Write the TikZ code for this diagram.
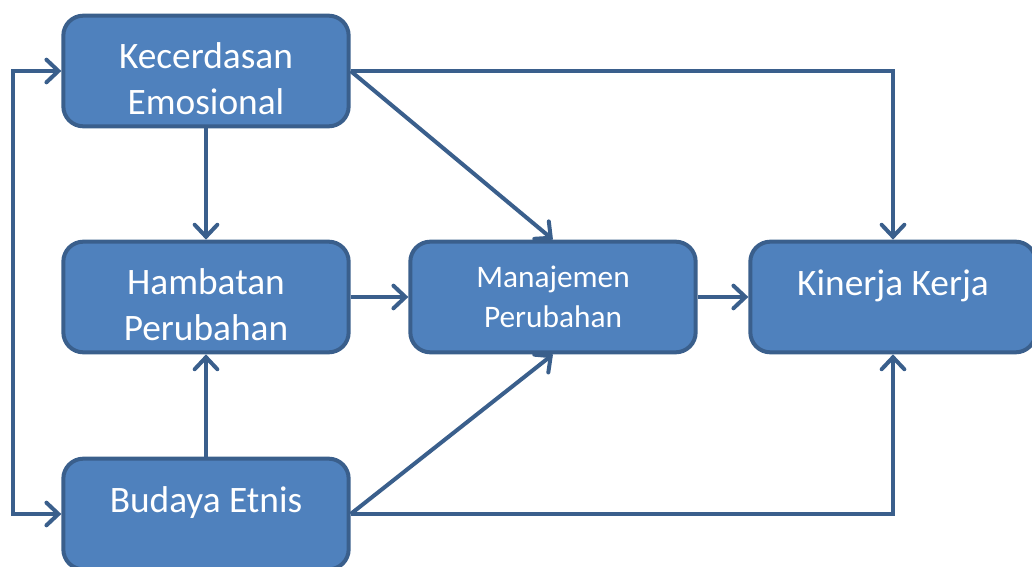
\documentclass[tikz,border=0pt]{standalone}
\usepackage{fontspec}
\setmainfont{Carlito}
\usetikzlibrary{arrows.meta}
\definecolor{boxFill}{HTML}{4F81BD}
\definecolor{boxLine}{HTML}{3A5F8C}
\begin{document}
\begin{tikzpicture}[x=0.75pt, y=-0.75pt,
    boxStyle/.style={rectangle, rounded corners=15pt, draw=boxLine, fill=boxFill, line width=3pt, minimum width=214pt, minimum height=83pt, text=white, align=center, font=\fontsize{23.5}{30}\selectfont},
    bigBoxStyle/.style={boxStyle, text height=65pt, font=\fontsize{28}{34}\selectfont},
    arrowStyle/.style={draw=boxLine, line width=3pt, -{Straight Barb[length=9pt, width=17pt, line cap=round]}},
    bothStyle/.style={arrowStyle, {Straight Barb[length=9pt, width=17pt, line cap=round]}-{Straight Barb[length=9pt, width=17pt, line cap=round]}}]
    \useasboundingbox (0, 0) rectangle (1032, 567);

    \node[bigBoxStyle] (kec) at (206, 71)  {Kecerdasan\\Emosional};
    \node[bigBoxStyle] (ham) at (206, 297) {Hambatan\\Perubahan};
    \node[bigBoxStyle] (bud) at (206, 514) {Budaya Etnis\\~};
    \node[boxStyle]    (man) at (553, 297) {Manajemen\\Perubahan};
    \node[bigBoxStyle] (kin) at (893, 297) {Kinerja Kerja\\~};

    \draw[bothStyle] (kec.west) -- ++(-48, 0) |- (bud.west);
    \draw[arrowStyle] (kec.south) -- (ham.north);
    \draw[arrowStyle] (bud.north) -- (ham.south);
    \draw[arrowStyle] (kec.east) -| (kin.north);
    \draw[arrowStyle] (kec.east) -- (man.north);
    \draw[arrowStyle] (ham.east) -- (man.west);
    \draw[arrowStyle] (man.east) -- (kin.west);
    \draw[arrowStyle] (bud.east) -- (man.south);
    \draw[arrowStyle] (bud.east) -| (kin.south);
\end{tikzpicture}
\end{document}
